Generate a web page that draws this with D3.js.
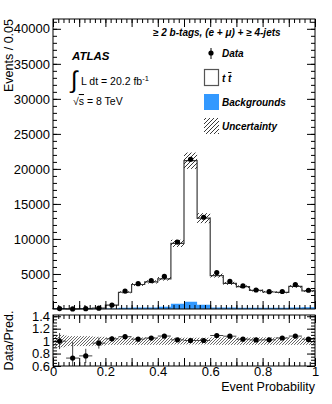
<!DOCTYPE html>
<html>
<head>
<meta charset="utf-8">
<script src="https://cdn.jsdelivr.net/npm/d3@7"></script>
<style>
  body { margin: 0; background: #fff; }
  svg { font-family: "Liberation Sans", Arial, sans-serif; }
  .axis path { display: none; }
  .axis line { stroke: #000; }
  .axis text { font-size: 13px; fill: #000; }
</style>
</head>
<body>
<div id="chart"></div>
<script>
// bins of 0.05 in event probability
var binEdges = d3.range(0, 1.0001, 0.05);
var dataCounts = [60, 8, 45, 120, 560, 2560, 3610, 4060, 4660, 9560, 21380, 13100, 5200, 3950, 3290, 2710, 2480, 2500, 3480, 2680];
var ttbarCounts = [30, 5, 19, 74, 460, 2210, 3300, 3650, 3990, 8620, 20120, 12370, 4550, 3460, 3000, 2480, 2250, 2190, 2990, 2350];
var bkgCounts = [30, 6, 40, 50, 80, 180, 200, 220, 320, 750, 1050, 600, 220, 200, 190, 180, 180, 190, 230, 250];
var relUnc = [0.10, 0.08, 0.08, 0.07, 0.06, 0.06, 0.06, 0.06, 0.06, 0.055, 0.055, 0.055, 0.06, 0.06, 0.06, 0.06, 0.06, 0.06, 0.06, 0.06];
var xTickLabels = [0, 0.2, 0.4, 0.6, 0.8, 1];
var yTickLabels = [5000, 10000, 15000, 20000, 25000, 30000, 35000, 40000];
var ratioTickLabels = [0.6, 0.8, 1, 1.2, 1.4];

var width = 332, height = 404;
var left = 53, right = 315;
var mainTop = 19, mainBottom = 309;
var ratioTop = 315, ratioBottom = 366;

var bins = dataCounts.map(function(d, i) {
  var mc = ttbarCounts[i] + bkgCounts[i];
  return {x0: binEdges[i], x1: binEdges[i + 1], data: d, bkg: bkgCounts[i], mc: mc, unc: mc * relUnc[i]};
});

var svg = d3.select("#chart").append("svg")
  .attr("width", width)
  .attr("height", height);

var defs = svg.append("defs");
function hatch(id, step, color, w) {
  defs.append("pattern")
    .attr("id", id)
    .attr("patternUnits", "userSpaceOnUse")
    .attr("width", step).attr("height", step)
    .append("path")
    .attr("d", "M-1," + 1 + " l2,-2 M0," + step + " l" + step + "," + (-step) + " M" + (step - 1) + "," + (step + 1) + " l2,-2")
    .attr("stroke", color)
    .attr("stroke-width", w);
}
hatch("hatchMain", 4, "#222", 0.9);
hatch("hatchRatio", 3, "#555", 0.9);

var x = d3.scaleLinear().domain([0, 1]).range([left, right]);
var y = d3.scaleLinear().domain([0, 41400]).range([mainBottom, mainTop]);
var yr = d3.scaleLinear().domain([0.6, 1.42]).range([ratioBottom, ratioTop]);

// step outline of total prediction (ttbar stacked on backgrounds)
function stepPath(getY) {
  var p = d3.path();
  p.moveTo(x(0), y(0));
  bins.forEach(function(b) {
    p.lineTo(x(b.x0), y(getY(b)));
    p.lineTo(x(b.x1), y(getY(b)));
  });
  p.lineTo(x(1), y(0));
  return p.toString();
}

svg.append("path")
  .attr("d", stepPath(function(b) { return b.mc; }))
  .attr("fill", "#fff")
  .attr("stroke", "#3a3a3a")
  .attr("stroke-width", 1.2);

svg.append("path")
  .attr("d", stepPath(function(b) { return b.bkg; }))
  .attr("fill", "#3399ff")
  .attr("stroke", "none");

// uncertainty on prediction
svg.append("g").selectAll("rect")
  .data(bins)
  .enter().append("rect")
  .attr("x", function(d) { return x(d.x0); })
  .attr("width", function(d) { return x(d.x1) - x(d.x0); })
  .attr("y", function(d) { return y(d.mc + d.unc); })
  .attr("height", function(d) { return y(d.mc - d.unc) - y(d.mc + d.unc); })
  .attr("fill", "url(#hatchMain)");

// data points
var pts = svg.append("g");
pts.selectAll("line")
  .data(bins)
  .enter().append("line")
  .attr("x1", function(d) { return x((d.x0 + d.x1) / 2); })
  .attr("x2", function(d) { return x((d.x0 + d.x1) / 2); })
  .attr("y1", function(d) { return y(d.data + Math.sqrt(d.data)); })
  .attr("y2", function(d) { return y(Math.max(0, d.data - Math.sqrt(d.data))); })
  .attr("stroke", "#000");
pts.selectAll("circle")
  .data(bins)
  .enter().append("circle")
  .attr("cx", function(d) { return x((d.x0 + d.x1) / 2); })
  .attr("cy", function(d) { return y(d.data); })
  .attr("r", 2.6)
  .attr("fill", "#000");

// ratio panel
svg.append("g").selectAll("rect")
  .data(bins)
  .enter().append("rect")
  .attr("x", function(d) { return x(d.x0); })
  .attr("width", function(d) { return x(d.x1) - x(d.x0) + 0.3; })
  .attr("y", function(d) { return yr(1 + d.unc / d.mc); })
  .attr("height", function(d) { return yr(1 - d.unc / d.mc) - yr(1 + d.unc / d.mc); })
  .attr("fill", "url(#hatchRatio)");

var rp = svg.append("g");
bins.forEach(function(b) {
  var r = b.data / b.mc, e = Math.sqrt(b.data) / b.mc;
  var cx = x((b.x0 + b.x1) / 2);
  rp.append("line")
    .attr("x1", x(b.x0)).attr("x2", x(b.x1))
    .attr("y1", yr(r)).attr("y2", yr(r))
    .attr("stroke", "#444");
  rp.append("line")
    .attr("x1", cx).attr("x2", cx)
    .attr("y1", yr(Math.min(1.42, r + e))).attr("y2", yr(Math.max(0.6, r - e)))
    .attr("stroke", "#444");
  rp.append("circle")
    .attr("cx", cx).attr("cy", yr(r))
    .attr("r", 2.6).attr("fill", "#000");
});

// axes: ticks drawn inside, on all four sides
function ticksX(g, ypos, dir, vals, len) {
  g.append("g").attr("class", "axis")
    .attr("transform", "translate(0," + ypos + ")")
    .call((dir > 0 ? d3.axisBottom(x) : d3.axisTop(x)).tickValues(vals).tickSize(-len).tickFormat(""));
}
function ticksY(g, scale, xpos, dir, vals, len) {
  g.append("g").attr("class", "axis")
    .attr("transform", "translate(" + xpos + ",0)")
    .call((dir > 0 ? d3.axisLeft(scale) : d3.axisRight(scale)).tickValues(vals).tickSize(-len).tickFormat(""));
}
var ax = svg.append("g");
var minorX = d3.range(0, 51).map(function(i) { return i * 0.02; });
var majorX = d3.range(0, 11).map(function(i) { return i * 0.1; });
[[mainBottom, 1], [mainTop, -1], [ratioBottom, 1], [ratioTop, -1]].forEach(function(s) {
  ticksX(ax, s[0], s[1], minorX, 4);
  ticksX(ax, s[0], s[1], majorX, 8);
});
var minorY = d3.range(1000, 41001, 1000);
[[left, 1], [right, -1]].forEach(function(s) {
  ticksY(ax, y, s[0], s[1], minorY, 4);
  ticksY(ax, y, s[0], s[1], yTickLabels, 8);
  ticksY(ax, yr, s[0], s[1], d3.range(0.65, 1.41, 0.05), 4);
  ticksY(ax, yr, s[0], s[1], ratioTickLabels, 8);
});

ax.append("g").attr("class", "axis")
  .attr("transform", "translate(" + left + ",0)")
  .call(d3.axisLeft(y).tickValues(yTickLabels).tickSize(0).tickPadding(3).tickFormat(d3.format("d")));
ax.append("g").attr("class", "axis")
  .attr("transform", "translate(" + left + ",0)")
  .call(d3.axisLeft(yr).tickValues(ratioTickLabels).tickSize(0).tickPadding(3)
    .tickFormat(function(d) { return d === 1 ? "1" : d3.format(".1f")(d); }));
ax.append("g").attr("class", "axis")
  .attr("transform", "translate(0," + ratioBottom + ")")
  .call(d3.axisBottom(x).tickValues(xTickLabels).tickSize(0).tickPadding(1).tickFormat(d3.format("")));

// frames
svg.append("rect").attr("x", left).attr("y", mainTop).attr("width", right - left).attr("height", mainBottom - mainTop)
  .attr("fill", "none").attr("stroke", "#000");
svg.append("rect").attr("x", left).attr("y", ratioTop).attr("width", right - left).attr("height", ratioBottom - ratioTop)
  .attr("fill", "none").attr("stroke", "#000");

// axis titles
svg.append("text")
  .attr("transform", "translate(13," + mainTop + ") rotate(-90)")
  .attr("text-anchor", "end")
  .attr("font-size", 12.5)
  .text("Events / 0.05");
svg.append("text")
  .attr("transform", "translate(13," + ((ratioTop + ratioBottom) / 2) + ") rotate(-90)")
  .attr("text-anchor", "middle")
  .attr("font-size", 12.5)
  .text("Data/Pred.");
svg.append("text")
  .attr("x", right).attr("y", 391)
  .attr("text-anchor", "end")
  .attr("font-size", 12.5)
  .text("Event Probability");

// ATLAS label
svg.append("text").attr("x", 72).attr("y", 60)
  .attr("font-size", 11.5).attr("font-weight", "bold").attr("font-style", "italic")
  .text("ATLAS");
svg.append("text").attr("x", 71).attr("y", 88)
  .attr("font-size", 24).attr("font-weight", "300")
  .text("\u222B");
var lumi = svg.append("text").attr("x", 81).attr("y", 85).attr("font-size", 10.5);
lumi.append("tspan").text("L dt = 20.2 fb");
lumi.append("tspan").attr("dy", -4).attr("font-size", 7.5).text("-1");
var ecm = svg.append("text").attr("x", 73).attr("y", 105).attr("font-size", 10.5);
ecm.append("tspan").text("\u221A");
ecm.append("tspan").attr("text-decoration", "overline").text("s");
ecm.append("tspan").text(" = 8 TeV");

// legend
svg.append("text").attr("x", 153).attr("y", 36)
  .attr("font-size", 10).attr("font-weight", "bold").attr("font-style", "italic")
  .text("\u2265 2 b-tags,  (e + \u03BC) + \u2265 4-jets");
var legend = svg.append("g").attr("font-size", 10).attr("font-weight", "bold").attr("font-style", "italic");
legend.append("line").attr("x1", 211).attr("x2", 211).attr("y1", 48).attr("y2", 59).attr("stroke", "#000");
legend.append("circle").attr("cx", 211).attr("cy", 53).attr("r", 2.6);
legend.append("text").attr("x", 222).attr("y", 57).text("Data");
legend.append("rect").attr("x", 204.5).attr("y", 69.5).attr("width", 14).attr("height", 16)
  .attr("fill", "#fff").attr("stroke", "#555").attr("stroke-width", 1.2);
var tt = legend.append("text").attr("x", 222).attr("y", 82);
tt.append("tspan").text("t ");
tt.append("tspan").attr("text-decoration", "overline").text("t");
legend.append("rect").attr("x", 204).attr("y", 94).attr("width", 15).attr("height", 16).attr("fill", "#3399ff");
legend.append("text").attr("x", 222).attr("y", 106).text("Backgrounds");
legend.append("rect").attr("x", 204).attr("y", 118).attr("width", 15).attr("height", 16).attr("fill", "url(#hatchMain)");
legend.append("text").attr("x", 222).attr("y", 130).text("Uncertainty");
</script>
</body>
</html>
